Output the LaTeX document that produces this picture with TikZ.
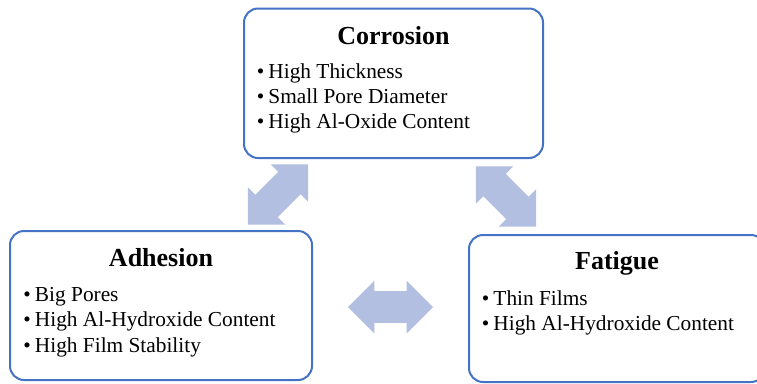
\documentclass[tikz,border=0pt]{standalone}
\usepackage{fontspec}
\setmainfont{Liberation Serif}
\usepackage{tikz}
\usetikzlibrary{positioning,calc,shapes.arrows}
\newlength{\px}
\setlength{\px}{0.75pt}
\definecolor{panelblue}{RGB}{68,114,196}
\definecolor{linkblue}{RGB}{178,191,225}

\begin{document}
\begin{tikzpicture}[
    x=\px, y=-\px,
    panel/.style={draw=panelblue, line width=2\px, rounded corners=14\px, inner sep=0pt},
    ttl/.style={font=\fontsize{19.5}{22}\selectfont\bfseries, inner sep=0pt, anchor=base},
    item/.style={font=\fontsize{16}{18}\selectfont, inner sep=0pt, anchor=base west},
    link/.style={shape=double arrow, fill=linkblue, draw=none, inner xsep=0pt, inner ysep=15.5\px,
      minimum height=85\px, minimum width=52\px, double arrow head extend=10.5\px, double arrow tip angle=90},
  ]
  \useasboundingbox (0,0) rectangle (757,383);
  \clip (0,0) rectangle (757,383);
  % the three panels
  \node[panel, minimum width=299\px, minimum height=149.5\px] (cor) at (393.5,83.25) {};
  \node[panel, minimum width=302\px, minimum height=149\px] (adh) at (161,305.5) {};
  \node[panel, minimum width=296\px, minimum height=147\px] (fat) at (617,308.5) {};
  \node[ttl] (corT) at (393.5,44) {Corrosion};
  \node[ttl] (adhT) at (161,266) {Adhesion};
  \node[ttl] (fatT) at (617,269) {Fatigue};
  \foreach \t [count=\i] in {High Thickness,Small Pore Diameter,High Al-Oxide Content}
    \node[item] (cor\i) at (256.5,{78.8+24.7*(\i-1)}) {\textbullet\hspace{0.2em}\t};
  \foreach \t [count=\i] in {Big Pores,High Al-Hydroxide Content,High Film Stability}
    \node[item] (adh\i) at (23,{301+25.5*(\i-1)}) {\textbullet\hspace{0.2em}\t};
  \foreach \t [count=\i] in {Thin Films,High Al-Hydroxide Content}
    \node[item] (fat\i) at (481.5,{305.5+25*(\i-1)}) {\textbullet\hspace{0.2em}\t};
  % links between the panels
  \node[link, rotate=45] (adhcor) at ($(cor.south west)!0.5!(adh.north east)$) {};
  \node[link, rotate=-45] (corfat) at ($(cor.south east)!0.5!(fat.north west)$) {};
  \node[link] (adhfat) at ($(adh.east)!0.5!(fat.west)$) {};
\end{tikzpicture}
\end{document}
